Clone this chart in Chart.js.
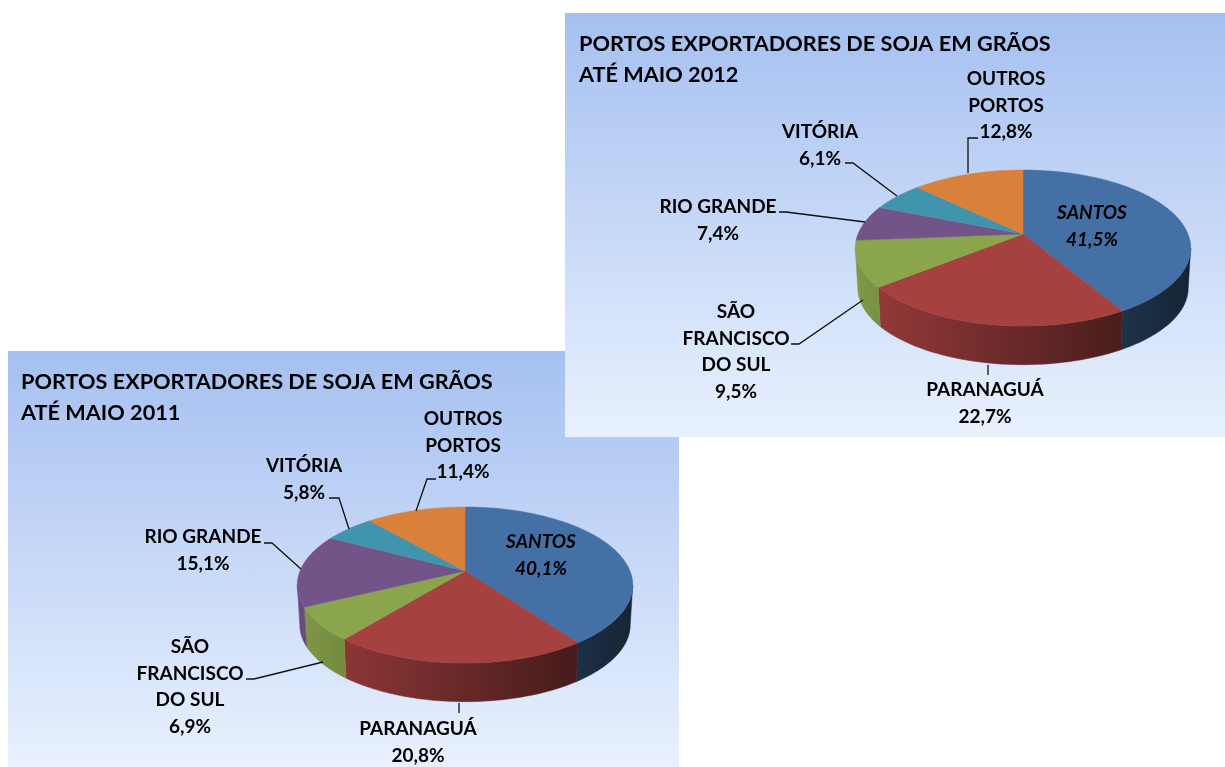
<!DOCTYPE html>
<html lang="pt">
<head>
<meta charset="utf-8">
<title>Portos exportadores de soja em grãos</title>
<script src="https://cdn.jsdelivr.net/npm/chart.js@4/dist/chart.umd.min.js"></script>
<style>
  html, body { margin: 0; height: 100%; background: #fff; overflow: hidden; }
  .panel { position: absolute; background: linear-gradient(#a5c0f0, #e9f1fe); }
  .panel canvas { display: block; }
  #panel2011 { left: 8px; top: 351px; width: 671px; height: 416px; }
  #panel2012 { left: 565px; top: 13px; width: 660px; height: 424px; }
</style>
</head>
<body>
<div class="panel" id="panel2011"><canvas id="chart2011" width="671" height="416"></canvas></div>
<div class="panel" id="panel2012"><canvas id="chart2012" width="660" height="424"></canvas></div>

<script>
// =============== D A T A =========================================
const categories = ['SANTOS', 'PARANAGUÁ', 'SÃO FRANCISCO DO SUL', 'RIO GRANDE', 'VITÓRIA', 'OUTROS PORTOS'];
const labelLines = [['SANTOS'], ['PARANAGUÁ'], ['SÃO', 'FRANCISCO', 'DO SUL'], ['RIO GRANDE'], ['VITÓRIA'], ['OUTROS', 'PORTOS']];
const values2011 = [40.1, 20.8, 6.9, 15.1, 5.8, 11.4];
const values2012 = [41.5, 22.7, 9.5, 7.4, 6.1, 12.8];
const title2011 = ['PORTOS EXPORTADORES DE SOJA EM GRÃOS', 'ATÉ MAIO 2011'];
const title2012 = ['PORTOS EXPORTADORES DE SOJA EM GRÃOS', 'ATÉ MAIO 2012'];
const sliceColors = ['#4470a5', '#a5413f', '#8aa54c', '#735489', '#4095ad', '#d9803a'];

// =============== L A Y O U T  (page pixels) =======================
// label anchor: centre x, centre y of first line
const labelAt2011 = [[541, 542], [418, 729], [190, 647], [203, 537], [304, 466], [463, 419]];
const labelAt2012 = [[1092, 213], [985, 390], [736, 312], [718, 207], [820, 132], [1006, 79]];
const leaders2011 = [
  null,
  [[459, 703], [459, 713]],
  [[323, 662], [254, 679], [246, 679]],
  [[301, 569], [272, 543], [264, 543]],
  [[349, 529], [339, 498], [329, 498]],
  [[416, 511], [427, 479], [436, 479]]
];
const leaders2012 = [
  null,
  [[988, 365], [988, 375]],
  [[863, 300], [799, 344], [791, 344]],
  [[865, 222], [786, 212], [779, 212]],
  [[897, 196], [853, 163], [845, 163]],
  [[968, 173], [968, 138], [978, 138]]
];

const FONT = 'Lato, "Open Sans", sans-serif';
const TILT = 0.18;       // perspective of the disc
const SQUASH = 0.4576;   // vertical flattening
const DEPTH = 40;        // height of the wall
const BASE_SCALE = 0.985;

function shade(hex, f) {
  const n = parseInt(hex.slice(1), 16);
  const c = [n >> 16, (n >> 8) & 255, n & 255].map(v => Math.round(v * f));
  return `rgb(${c[0]},${c[1]},${c[2]})`;
}

// angle on the circle -> point on the tilted disc
function project(arc, angle, scale, dy) {
  const u = Math.cos(angle), v = Math.sin(angle);
  const w = 1 - TILT * v;
  return [
    arc.x + arc.outerRadius * scale * u / w,
    arc.y + arc.outerRadius * scale * SQUASH * v / w + dy
  ];
}

function sampleEdge(arc, from, to, scale, dy) {
  const pts = [];
  const steps = Math.max(4, Math.ceil((to - from) / 0.02));
  for (let i = 0; i <= steps; i++) {
    pts.push(project(arc, from + (to - from) * i / steps, scale, dy));
  }
  return pts;
}

function fillPoly(ctx, pts, fill) {
  ctx.beginPath();
  pts.forEach((p, i) => i ? ctx.lineTo(p[0], p[1]) : ctx.moveTo(p[0], p[1]));
  ctx.closePath();
  ctx.fillStyle = fill;
  ctx.strokeStyle = fill;
  ctx.lineWidth = 0.5;
  ctx.fill();
  ctx.stroke();
}

// =============== 3 D   P I E =====================================
const pie3d = {
  id: 'pie3d',
  beforeDatasetDraw(chart) {
    const ctx = chart.ctx;
    const arcs = chart.getDatasetMeta(0).data.map(a =>
      a.getProps(['x', 'y', 'startAngle', 'endAngle', 'outerRadius'], true));
    const colors = chart.data.datasets[0].backgroundColor;
    // only the front of the wall shows, between the two silhouette angles
    const frontFrom = Math.asin(TILT), frontTo = Math.PI - frontFrom;

    ctx.save();
    arcs.forEach((arc, i) => {
      const from = Math.max(arc.startAngle, frontFrom), to = Math.min(arc.endAngle, frontTo);
      if (to <= from) return;
      const left = arc.x - arc.outerRadius, right = arc.x + arc.outerRadius;
      const grad = ctx.createLinearGradient(left, 0, right, 0);
      grad.addColorStop(0, shade(colors[i], 0.92));
      grad.addColorStop(1, shade(colors[i], 0.33));
      const top = sampleEdge(arc, from, to, 1, 0);
      const base = sampleEdge(arc, from, to, BASE_SCALE, DEPTH).reverse();
      fillPoly(ctx, top.concat(base), grad);
    });
    arcs.forEach((arc, i) => {
      fillPoly(ctx, [[arc.x, arc.y]].concat(sampleEdge(arc, arc.startAngle, arc.endAngle, 1, 0)), colors[i]);
    });
    ctx.restore();
    return false;
  },
  afterDraw(chart, args, opts) {
    const ctx = chart.ctx;
    const values = chart.data.datasets[0].data;
    ctx.save();

    // title
    ctx.fillStyle = '#000';
    ctx.textAlign = 'left';
    ctx.textBaseline = 'middle';
    ctx.font = `bold 21.7px ${FONT}`;
    opts.title.forEach((line, i) => ctx.fillText(line, opts.titleX, 31 + i * 31));

    // leader lines
    ctx.strokeStyle = '#111';
    ctx.lineWidth = 1.3;
    opts.leaders.forEach(path => {
      if (!path) return;
      ctx.beginPath();
      path.forEach((p, i) => {
        const x = p[0] - opts.left, y = p[1] - opts.top;
        i ? ctx.lineTo(x, y) : ctx.moveTo(x, y);
      });
      ctx.stroke();
    });

    // slice labels
    ctx.textAlign = 'center';
    labelLines.forEach((lines, i) => {
      const x = opts.labelAt[i][0] - opts.left, y = opts.labelAt[i][1] - opts.top;
      ctx.font = `${i === 0 ? 'italic ' : ''}bold 19px ${FONT}`;
      const text = lines.concat(values[i].toFixed(1).replace('.', ',') + '%');
      text.forEach((line, j) => ctx.fillText(line, x, y + j * 26.6));
    });
    ctx.restore();
  }
};

function drawPie(id, values, title, labelAt, leaders, box) {
  new Chart(document.getElementById(id), {
    type: 'pie',
    data: {
      labels: categories,
      datasets: [{ data: values, backgroundColor: sliceColors, borderWidth: 0 }]
    },
    options: {
      responsive: false,
      animation: false,
      layout: { padding: box.padding },
      plugins: {
        legend: { display: false },
        tooltip: { enabled: false },
        pie3d: { title, labelAt, leaders, left: box.left, top: box.top, titleX: box.titleX }
      }
    },
    plugins: [pie3d]
  });
}

drawPie('chart2011', values2011, title2011, labelAt2011, leaders2011, {
  left: 8, top: 351, titleX: 13,
  padding: { left: 292, right: 49, top: 55, bottom: 31 }
});
drawPie('chart2012', values2012, title2012, labelAt2012, leaders2012, {
  left: 565, top: 13, titleX: 14,
  padding: { left: 293, right: 37, top: 56, bottom: 38 }
});
</script>
</body>
</html>
